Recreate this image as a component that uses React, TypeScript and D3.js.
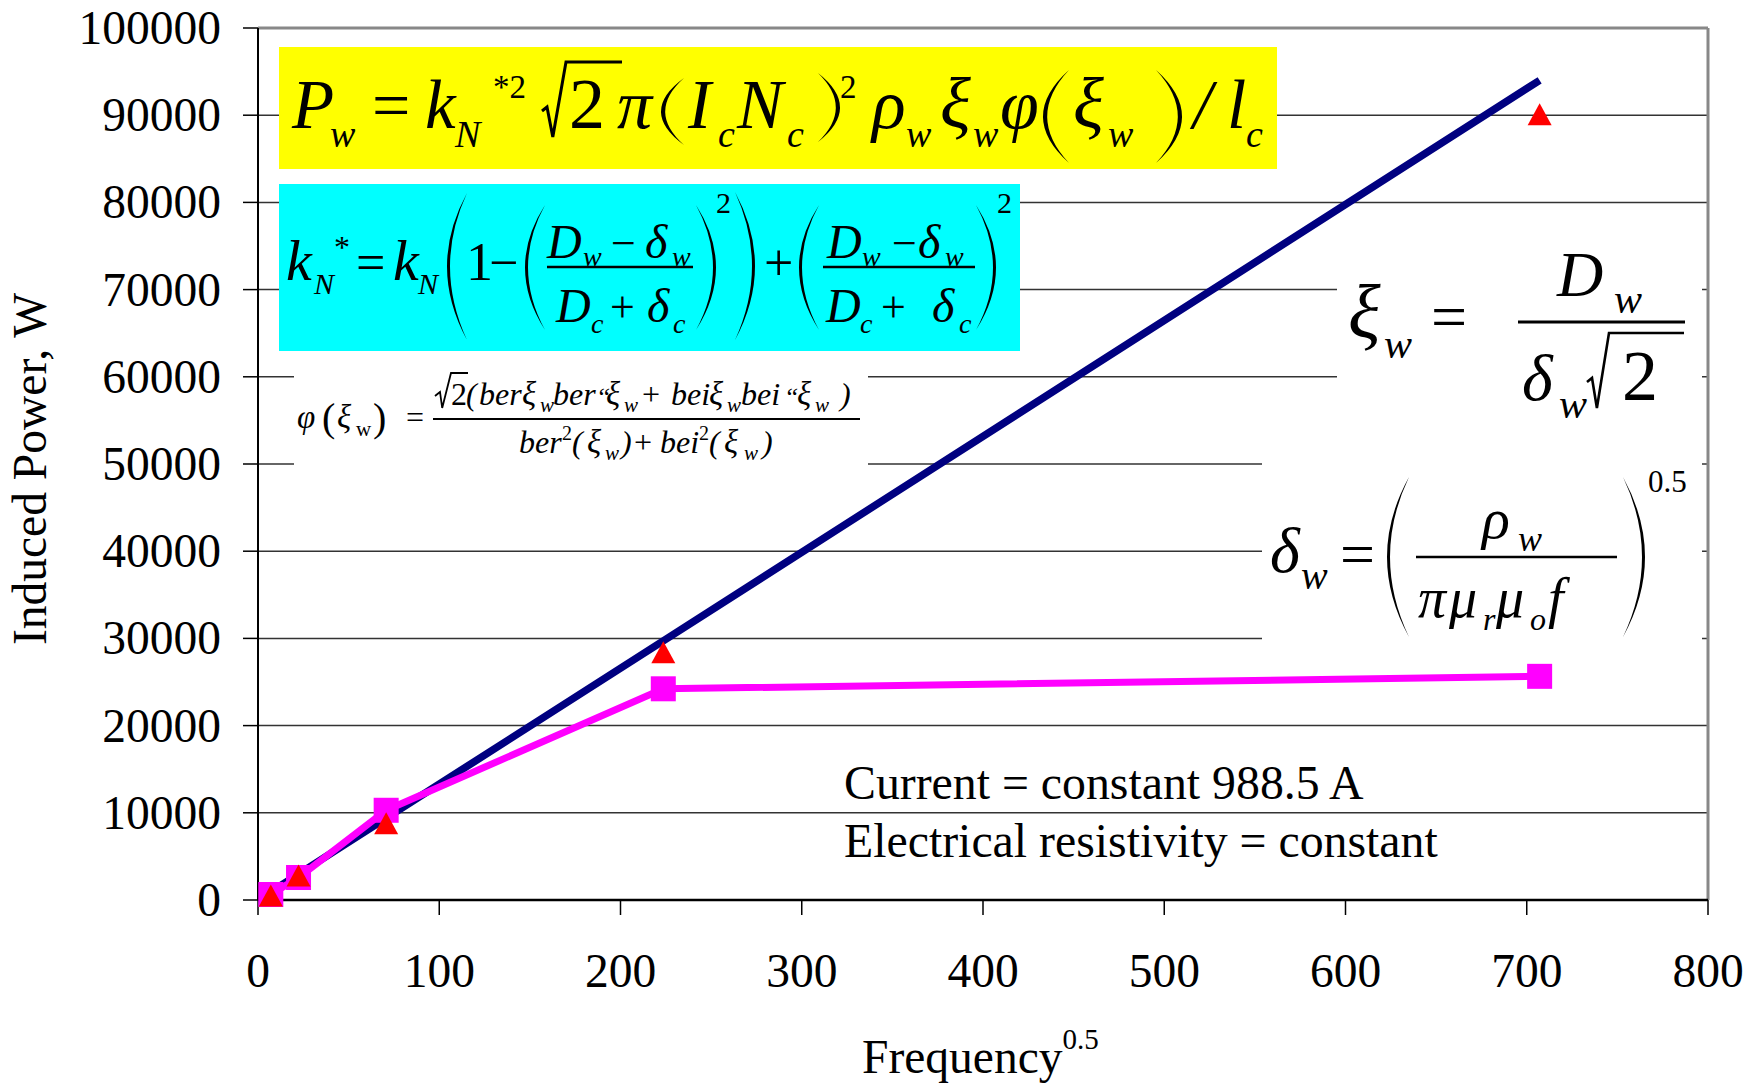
import React from "react";
import * as d3 from "d3";

// ---------- data ----------
const SQRT_FREQ = [7.07, 22.36, 70.71, 223.61, 707.11];
const POWER_LINEAR = [940, 2970, 9400, 29720, 94000];
const POWER_SQUARES = [630, 2580, 10290, 24220, 25650];
const POWER_TRIANGLES = [520, 2800, 8800, 28400, 90100];

const X_TICKS = [0, 100, 200, 300, 400, 500, 600, 700, 800];
const Y_TICKS = [0, 10000, 20000, 30000, 40000, 50000, 60000, 70000, 80000, 90000, 100000];

const Y_TITLE = "Induced Power, W";
const X_TITLE = "Frequency";
const X_TITLE_SUP = "0.5";
const NOTE_1 = "Current = constant 988.5 A";
const NOTE_2 = "Electrical resistivity = constant";

// ---------- layout ----------
const W = 1760;
const H = 1087;
const PL = 258, PR = 1708, PT = 28, PB = 900;
const FONT = "'Liberation Serif', 'Times New Roman', serif";

type Tok = [string, number, number, number, "i" | "n"];
type Paren = [number, number, number, number, boolean];

const YELLOW_TOKENS: Tok[] = [
  ["P", 292, 128, 69, "i"],
  ["w", 330, 147, 38, "i"],
  ["=", 372, 128, 68, "n"],
  ["k", 425, 128, 69, "i"],
  ["N", 455, 147, 38, "i"],
  ["*2", 493, 98, 33, "n"],
  ["2", 569, 128, 72, "n"],
  ["π", 617, 128, 70, "i"],
  ["I", 688, 128, 69, "i"],
  ["c", 718, 147, 38, "i"],
  ["N", 737, 128, 69, "i"],
  ["c", 787, 147, 38, "i"],
  ["2", 840, 98, 33, "n"],
  ["ρ", 872, 128, 70, "i"],
  ["w", 906, 147, 38, "i"],
  ["ξ", 940, 128, 72, "i"],
  ["w", 973, 147, 38, "i"],
  ["φ", 1000, 128, 70, "i"],
  ["ξ", 1073, 128, 72, "i"],
  ["w", 1108, 147, 38, "i"],
  ["/", 1193, 128, 69, "i"],
  ["l", 1227, 128, 69, "i"],
  ["c", 1246, 147, 38, "i"],
];
const YELLOW_PARENS: Paren[] = [
  [661, 684, 78, 145, true],
  [818, 840, 73, 142, false],
  [1043, 1069, 70, 163, true],
  [1156, 1182, 70, 163, false],
];

const CYAN_TOKENS: Tok[] = [
  ["k", 286, 280, 58, "i"],
  ["N", 314, 294, 30, "i"],
  ["*", 334, 258, 32, "n"],
  ["=", 356, 280, 52, "n"],
  ["k", 393, 280, 58, "i"],
  ["N", 418, 294, 30, "i"],
  ["1", 466, 280, 54, "n"],
  ["\u2212", 489, 280, 52, "n"],
  ["D", 547, 258, 48, "i"],
  ["w", 583, 266, 28, "i"],
  ["\u2212", 611, 258, 44, "n"],
  ["δ", 645, 258, 48, "i"],
  ["w", 672, 266, 28, "i"],
  ["D", 556, 322, 48, "i"],
  ["c", 591, 333, 28, "i"],
  ["+", 610, 322, 44, "n"],
  ["δ", 647, 322, 48, "i"],
  ["c", 673, 333, 28, "i"],
  ["2", 716, 213, 30, "n"],
  ["+", 764, 280, 52, "n"],
  ["D", 827, 258, 48, "i"],
  ["w", 862, 266, 28, "i"],
  ["\u2212", 892, 258, 44, "n"],
  ["δ", 918, 258, 48, "i"],
  ["w", 945, 266, 28, "i"],
  ["D", 826, 322, 48, "i"],
  ["c", 860, 333, 28, "i"],
  ["+", 881, 322, 44, "n"],
  ["δ", 932, 322, 48, "i"],
  ["c", 959, 333, 28, "i"],
  ["2", 997, 213, 30, "n"],
];
const CYAN_PARENS: Paren[] = [
  [447, 467, 193, 340, true],
  [525, 545, 205, 330, true],
  [696, 716, 205, 330, false],
  [735, 755, 192, 340, false],
  [799, 819, 205, 330, true],
  [976, 996, 205, 330, false],
];
const CYAN_BARS: [number, number, number][] = [
  [547, 693, 267],
  [823, 975, 267],
];

const PHI_TOKENS: Tok[] = [
  ["φ", 297, 428, 33, "i"],
  ["(", 322, 431, 40, "n"],
  ["ξ", 337, 428, 33, "i"],
  ["w", 356, 436, 21, "n"],
  [")", 373, 431, 40, "n"],
  ["=", 406, 428, 32, "n"],
  ["2", 451, 405, 32, "n"],
  ["(", 466, 405, 32, "i"],
  ["ber", 479, 405, 32, "i"],
  ["ξ", 522, 405, 33, "i"],
  ["w", 540, 412, 21, "i"],
  ["ber", 553, 405, 32, "i"],
  ["\u201C", 596, 405, 26, "i"],
  ["ξ", 606, 405, 33, "i"],
  ["w", 624, 412, 21, "i"],
  ["+", 642, 405, 32, "n"],
  ["bei", 671, 405, 32, "i"],
  ["ξ", 709, 405, 33, "i"],
  ["w", 727, 412, 21, "i"],
  ["bei", 741, 405, 32, "i"],
  ["\u201C", 784, 405, 26, "i"],
  ["ξ", 797, 405, 33, "i"],
  ["w", 815, 412, 21, "i"],
  [")", 840, 405, 32, "i"],
  ["ber", 519, 453, 32, "i"],
  ["2", 562, 440, 20, "n"],
  ["(", 572, 453, 32, "i"],
  ["ξ", 587, 453, 33, "i"],
  ["w", 605, 460, 21, "i"],
  [")", 621, 453, 32, "i"],
  ["+", 634, 453, 32, "n"],
  ["bei", 660, 453, 32, "i"],
  ["2", 699, 440, 20, "n"],
  ["(", 709, 453, 32, "i"],
  ["ξ", 724, 453, 33, "i"],
  ["w", 744, 460, 21, "i"],
  [")", 762, 453, 32, "i"],
];

const XI_TOKENS: Tok[] = [
  ["ξ", 1348, 338, 76, "i"],
  ["w", 1384, 358, 42, "i"],
  ["=", 1431, 338, 64, "n"],
  ["D", 1557, 296, 64, "i"],
  ["w", 1614, 313, 42, "i"],
  ["δ", 1522, 400, 66, "i"],
  ["w", 1559, 418, 42, "i"],
  ["2", 1622, 400, 72, "n"],
];

const DELTA_TOKENS: Tok[] = [
  ["δ", 1270, 572, 64, "i"],
  ["w", 1301, 589, 40, "i"],
  ["=", 1340, 575, 62, "n"],
  ["ρ", 1482, 538, 58, "i"],
  ["w", 1518, 551, 36, "i"],
  ["π", 1418, 617, 56, "i"],
  ["μ", 1449, 617, 56, "i"],
  ["r", 1483, 630, 32, "i"],
  ["μ", 1496, 617, 56, "i"],
  ["o", 1530, 630, 32, "i"],
  ["f", 1548, 617, 56, "i"],
  ["0.5", 1648, 492, 31, "n"],
];

function parenPath(xa: number, xb: number, y0: number, y1: number, left: boolean, t = 2.6) {
  const ym = (y0 + y1) / 2;
  if (left) {
    return `M${xb},${y0} Q${2 * xa - xb},${ym} ${xb},${y1} Q${2 * (xa + t) - xb},${ym} ${xb},${y0} Z`;
  }
  return `M${xa},${y0} Q${2 * xb - xa},${ym} ${xa},${y1} Q${2 * (xb - t) - xa},${ym} ${xa},${y0} Z`;
}

function radicalPath(x0: number, yHook: number, yBottom: number, x1: number, yTop: number, x2: number) {
  const xv = x0 + (x1 - x0) * 0.45;
  return `M${x0},${yHook + 4} L${x0 + 5},${yHook} L${xv},${yBottom} L${x1},${yTop} L${x2},${yTop}`;
}

function Tokens({ toks }: { toks: Tok[] }) {
  return (
    <g fontFamily={FONT} fill="#000">
      {toks.map((t, i) => (
        <text key={i} x={t[1]} y={t[2]} fontSize={t[3]} fontStyle={t[4] === "i" ? "italic" : "normal"}>
          {t[0]}
        </text>
      ))}
    </g>
  );
}

export default function App() {
  const x = d3.scaleLinear().domain([0, 800]).range([PL, PR]);
  const y = d3.scaleLinear().domain([0, 100000]).range([PB, PT]);

  const lineGen = d3
    .line<[number, number]>()
    .x((d) => x(d[0]))
    .y((d) => y(d[1]));

  const linearPts: [number, number][] = SQRT_FREQ.map((f, i) => [f, POWER_LINEAR[i]]);
  const squarePts: [number, number][] = SQRT_FREQ.map((f, i) => [f, POWER_SQUARES[i]]);
  const triPts: [number, number][] = SQRT_FREQ.map((f, i) => [f, POWER_TRIANGLES[i]]);

  return (
    <svg
      width={W}
      height={H}
      viewBox={`0 0 ${W} ${H}`}
      style={{ position: "absolute", left: 0, top: 0, background: "#fff" }}
    >
      <rect x={0} y={0} width={W} height={H} fill="#fff" />

      {/* gridlines */}
      {Y_TICKS.filter((v) => v > 0 && v < 100000).map((v) => (
        <line key={v} x1={PL} x2={PR} y1={y(v)} y2={y(v)} stroke="#333" strokeWidth={1.5} />
      ))}
      {/* plot border (top, right) */}
      <line x1={PL} x2={PR} y1={y(100000)} y2={y(100000)} stroke="#888" strokeWidth={3} />
      <line x1={PR} x2={PR} y1={PT} y2={PB} stroke="#888" strokeWidth={3} />

      {/* annotation boxes */}
      <rect x={279} y={47} width={998} height={122} fill="#ffff00" />
      <rect x={279} y={184} width={741} height={167} fill="#00ffff" />
      <rect x={294} y={358} width={574} height={112} fill="#fff" />
      <rect x={1337} y={240} width={365} height={178} fill="#fff" />
      <rect x={1262} y={446} width={440} height={204} fill="#fff" />

      {/* yellow formula */}
      <Tokens toks={YELLOW_TOKENS} />
      {YELLOW_PARENS.map((p, i) => (
        <path key={i} d={parenPath(p[0], p[1], p[2], p[3], p[4], 4.2)} fill="#000" />
      ))}
      <path d={radicalPath(542, 107, 137, 566, 62, 622)} fill="none" stroke="#000" strokeWidth={3} />

      {/* cyan formula */}
      <Tokens toks={CYAN_TOKENS} />
      {CYAN_PARENS.map((p, i) => (
        <path key={i} d={parenPath(p[0], p[1], p[2], p[3], p[4], 3)} fill="#000" />
      ))}
      {CYAN_BARS.map((b, i) => (
        <line key={i} x1={b[0]} x2={b[1]} y1={b[2]} y2={b[2]} stroke="#000" strokeWidth={2.4} />
      ))}

      {/* phi formula */}
      <Tokens toks={PHI_TOKENS} />
      <path d={radicalPath(435, 392, 408, 451, 373, 468)} fill="none" stroke="#000" strokeWidth={1.8} />
      <line x1={433} x2={860} y1={419} y2={419} stroke="#000" strokeWidth={1.8} />

      {/* xi formula */}
      <Tokens toks={XI_TOKENS} />
      <line x1={1518} x2={1685} y1={322} y2={322} stroke="#000" strokeWidth={2.8} />
      <path d={radicalPath(1587, 378, 408, 1609, 333, 1684)} fill="none" stroke="#000" strokeWidth={2.6} />

      {/* delta formula */}
      <Tokens toks={DELTA_TOKENS} />
      <line x1={1416} x2={1617} y1={557} y2={557} stroke="#000" strokeWidth={2.6} />
      <path d={parenPath(1387, 1409, 477, 637, true, 3)} fill="#000" />
      <path d={parenPath(1623, 1645, 477, 637, false, 3)} fill="#000" />

      {/* notes */}
      <g fontFamily={FONT} fontSize={47.8} fill="#000">
        <text x={844} y={799}>{NOTE_1}</text>
        <text x={844} y={857}>{NOTE_2}</text>
      </g>

      {/* axes */}
      <line x1={PL} x2={PL} y1={PT} y2={PB} stroke="#000" strokeWidth={2} />
      <line x1={PL} x2={PR} y1={PB} y2={PB} stroke="#000" strokeWidth={2.5} />
      {Y_TICKS.map((v) => (
        <g key={v}>
          <line x1={PL - 15} x2={PL} y1={y(v)} y2={y(v)} stroke="#000" strokeWidth={1.5} />
          <text x={221} y={y(v) + 16} textAnchor="end" fontFamily={FONT} fontSize={47.5}>
            {v}
          </text>
        </g>
      ))}
      {X_TICKS.map((v) => (
        <g key={v}>
          <line x1={x(v)} x2={x(v)} y1={PB} y2={PB + 15} stroke="#000" strokeWidth={1.5} />
          <text x={x(v)} y={987} textAnchor="middle" fontFamily={FONT} fontSize={47.5}>
            {v}
          </text>
        </g>
      ))}

      {/* axis titles */}
      <text x={862} y={1073} fontFamily={FONT} fontSize={47.5}>
        {X_TITLE}
        <tspan dy={-24} fontSize={29}>{X_TITLE_SUP}</tspan>
      </text>
      <text transform="translate(46,469) rotate(-90)" textAnchor="middle" fontFamily={FONT} fontSize={47.5}>
        {Y_TITLE}
      </text>

      {/* series */}
      <path d={lineGen(linearPts) || ""} fill="none" stroke="#000080" strokeWidth={7.5} />
      <path d={lineGen(squarePts) || ""} fill="none" stroke="#ff00ff" strokeWidth={7} />
      {squarePts.map((d, i) => (
        <rect key={i} x={x(d[0]) - 12.5} y={y(d[1]) - 12.5} width={25} height={25} fill="#ff00ff" />
      ))}
      {triPts.map((d, i) => {
        const cx = x(d[0]);
        const cy = y(d[1]);
        return <path key={i} d={`M${cx},${cy - 11} L${cx + 12},${cy + 11} L${cx - 12},${cy + 11} Z`} fill="#ff0000" />;
      })}
    </svg>
  );
}
